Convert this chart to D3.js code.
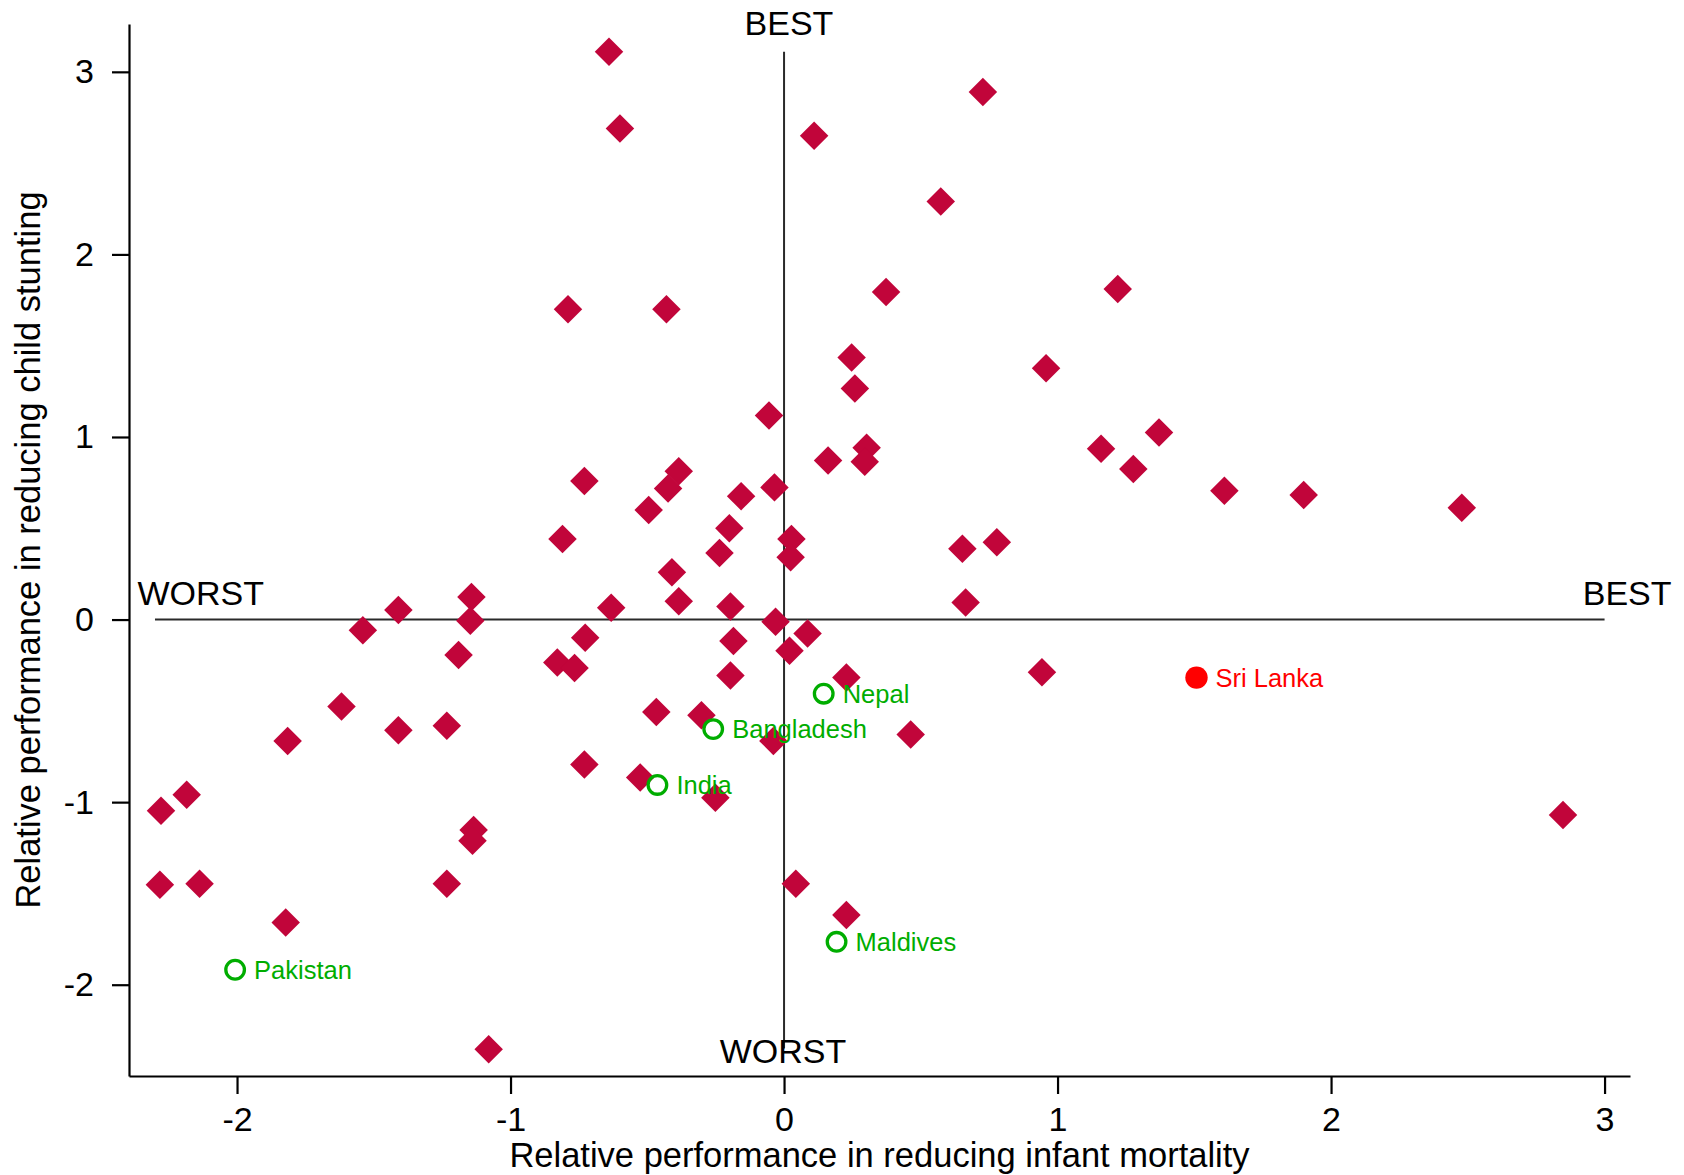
<!DOCTYPE html>
<html>
<head>
<meta charset="utf-8">
<script src="https://cdn.jsdelivr.net/npm/d3@7"></script>
<style>
  body { margin: 0; background: #fff; }
  text { font-family: "Liberation Sans", Arial, Helvetica, sans-serif; }
</style>
</head>
<body>
<div id="scatter"></div>
<script>
// other countries (diamonds)
var infantOther = [-0.64, -0.60, 0.727, 0.11, 0.573, -0.79, -0.43, 0.373, 1.22, 0.247,
    0.958, 0.259, -0.055, 1.159, 0.302, 0.295, 0.161, 1.371, 1.277, -0.73,
    -0.385, -0.424, -0.157, -0.035, 1.61, 1.90, 2.478, -0.495, -0.20, -0.81,
    0.027, -0.236, 0.024, -0.41, 0.652, 0.778, -0.385, -0.632, -0.196, 0.664,
    -1.143, -1.41, -1.147, -1.54, -1.19, -0.727, -0.185, -0.031, 0.086, 0.02,
    -0.829, -0.766, -0.196, 0.943, 0.228, -1.618, -0.467, -0.302, -1.41, -1.233,
    -1.815, 0.463, -0.039, -0.73, -0.526, -0.251, -2.184, -2.278, -1.135, -1.139,
    2.848, -2.282, -2.137, -1.233, 0.043, -1.822, 0.228, -1.08];
var stuntOther = [3.11, 2.69, 2.89, 2.65, 2.29, 1.70, 1.70, 1.794, 1.81, 1.435,
    1.376, 1.265, 1.118, 0.935, 0.941, 0.865, 0.871, 1.024, 0.824, 0.759,
    0.812, 0.718, 0.676, 0.724, 0.706, 0.682, 0.612, 0.60, 0.50, 0.441,
    0.441, 0.365, 0.341, 0.259, 0.388, 0.424, 0.10, 0.065, 0.071, 0.094,
    0.124, 0.053, -0.006, -0.059, -0.194, -0.10, -0.118, -0.012, -0.076, -0.171,
    -0.235, -0.265, -0.306, -0.288, -0.318, -0.476, -0.506, -0.524, -0.606, -0.582,
    -0.665, -0.629, -0.665, -0.794, -0.865, -0.976, -0.959, -1.047, -1.153, -1.212,
    -1.071, -1.453, -1.447, -1.447, -1.447, -1.659, -1.618, -2.353];

// South Asia
var southAsiaNames = ['Nepal', 'Bangladesh', 'India', 'Pakistan', 'Maldives'];
var southAsiaInfant = [0.145, -0.259, -0.463, -2.007, 0.192];
var southAsiaStunt = [-0.406, -0.60, -0.906, -1.918, -1.765];

var sriLankaInfant = 1.508;
var sriLankaStunt = -0.318;

var tickValues = [-2, -1, 0, 1, 2, 3];
var tickLabels = ['-2', '-1', '0', '1', '2', '3'];

// quadrant labels
var cornerText = ['BEST', 'WORST', 'WORST', 'BEST'];
var cornerX = [0.018, -0.004, -2.364, 3.245];
var cornerY = [3.20, -2.428, 0.082, 0.08];
var cornerAnchor = ['middle', 'middle', 'start', 'end'];

var svgWidth = 1684;
var svgHeight = 1175;

var margin = {
    top: 24,
    right: 54,
    bottom: 99,
    left: 129
};

var width = svgWidth - margin.left - margin.right;
var height = svgHeight - margin.top - margin.bottom;

var svg = d3.select('#scatter')
    .append('svg')
    .attr('width', svgWidth)
    .attr('height', svgHeight);

var chartGroup = svg.append('g')
    .attr('transform', `translate(${margin.left}, ${margin.top})`);

var xLinearScale = d3.scaleLinear()
    .domain([-2.395, 3.093])
    .range([0, width]);

var yLinearScale = d3.scaleLinear()
    .domain([-2.5, 3.262])
    .range([height, 0]);

var bottomAxis = d3.axisBottom(xLinearScale)
    .tickValues(tickValues)
    .tickSizeInner(18)
    .tickSizeOuter(0)
    .tickPadding(13)
    .tickFormat((d, i) => tickLabels[i]);
var leftAxis = d3.axisLeft(yLinearScale)
    .tickValues(tickValues)
    .tickSizeInner(17)
    .tickSizeOuter(0)
    .tickPadding(18)
    .tickFormat((d, i) => tickLabels[i]);

var xAxisG = chartGroup.append('g')
    .attr('transform', `translate(0, ${height})`)
    .call(bottomAxis);

var yAxisG = chartGroup.append('g')
    .call(leftAxis);

[xAxisG, yAxisG].forEach(function(g) {
    g.selectAll('path, line').attr('stroke', '#000').attr('stroke-width', 2.2);
    g.selectAll('text')
        .attr('fill', '#000')
        .style('font-size', '34px')
        .style('font-family', '"Liberation Sans", Arial, sans-serif');
});

// reference lines
chartGroup.append('line')
    .attr('x1', xLinearScale(-2.3))
    .attr('x2', xLinearScale(3))
    .attr('y1', yLinearScale(0))
    .attr('y2', yLinearScale(0))
    .attr('stroke', '#2a2a2a')
    .attr('stroke-width', 2);

chartGroup.append('line')
    .attr('x1', xLinearScale(0))
    .attr('x2', xLinearScale(0))
    .attr('y1', yLinearScale(3.11))
    .attr('y2', yLinearScale(-2.35))
    .attr('stroke', '#2a2a2a')
    .attr('stroke-width', 2);

chartGroup.selectAll('text.corner')
    .data(cornerText)
    .enter()
    .append('text')
    .attr('class', 'corner')
    .attr('x', (d, i) => xLinearScale(cornerX[i]))
    .attr('y', (d, i) => yLinearScale(cornerY[i]))
    .attr('text-anchor', (d, i) => cornerAnchor[i])
    .style('font-size', '34px')
    .text(d => d);

var diamond = d3.symbol().type(d3.symbolSquare).size(406);

chartGroup.selectAll('path.other')
    .data(infantOther)
    .enter()
    .append('path')
    .attr('class', 'other')
    .attr('d', diamond)
    .attr('transform', (d, i) => `translate(${xLinearScale(d)}, ${yLinearScale(stuntOther[i])}) rotate(45)`)
    .attr('fill', '#c1053a');

chartGroup.selectAll('circle.sa')
    .data(southAsiaNames)
    .enter()
    .append('circle')
    .attr('class', 'sa')
    .attr('cx', (d, i) => xLinearScale(southAsiaInfant[i]))
    .attr('cy', (d, i) => yLinearScale(southAsiaStunt[i]))
    .attr('r', 9.3)
    .attr('fill', 'none')
    .attr('stroke', '#00ad00')
    .attr('stroke-width', 3.3);

chartGroup.selectAll('text.sa')
    .data(southAsiaNames)
    .enter()
    .append('text')
    .attr('class', 'sa')
    .attr('x', (d, i) => xLinearScale(southAsiaInfant[i]) + 19)
    .attr('y', (d, i) => yLinearScale(southAsiaStunt[i]) + 9.3)
    .attr('fill', '#00ad00')
    .style('font-size', '25.5px')
    .text(d => d);

chartGroup.append('circle')
    .attr('cx', xLinearScale(sriLankaInfant))
    .attr('cy', yLinearScale(sriLankaStunt))
    .attr('r', 11.2)
    .attr('fill', '#ff0000');

chartGroup.append('text')
    .attr('x', xLinearScale(sriLankaInfant) + 19)
    .attr('y', yLinearScale(sriLankaStunt) + 9.3)
    .attr('fill', '#ff0000')
    .style('font-size', '25.5px')
    .text('Sri Lanka');

// axis titles
chartGroup.append('text')
    .attr('transform', 'rotate(-90)')
    .attr('y', 40 - margin.left)
    .attr('x', 0 - (height / 2))
    .attr('text-anchor', 'middle')
    .style('font-size', '34.5px')
    .text('Relative performance in reducing child stunting');

chartGroup.append('text')
    .attr('transform', `translate(${width / 2}, ${height + 91})`)
    .attr('text-anchor', 'middle')
    .style('font-size', '34.5px')
    .text('Relative performance in reducing infant mortality');
</script>
</body>
</html>
